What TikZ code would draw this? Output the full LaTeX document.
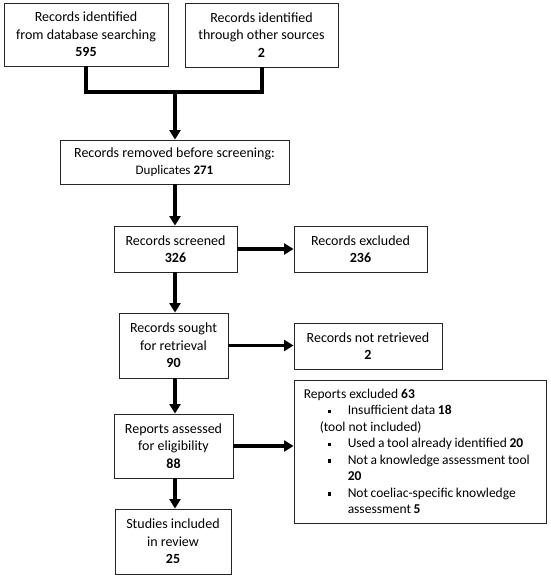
\documentclass[tikz,border=0pt]{standalone}
\usepackage{fontspec}
\setmainfont{Carlito}
\usetikzlibrary{arrows.meta}
\tikzset{
  box/.style={draw=black!85, line width=0.9pt, align=center, inner sep=2pt, font=\fontsize{14}{17.5}\selectfont},
  conn/.style={line width=3.6pt, line cap=butt},
  arr/.style={conn, -{Triangle[width=11pt,length=9.5pt]}},
  listtext/.style={align=left, inner sep=0pt, anchor=north west, font=\fontsize{13.5}{16.5}\selectfont},
}
\newcommand{\bulitem}{\hspace*{24pt}\makebox[20pt][l]{\rule[0.25ex]{3.5pt}{3.5pt}}}
\newcommand{\tight}[1]{{\spaceskip=2.6pt #1}}
\begin{document}
\begin{tikzpicture}[x=1pt,y=-1pt]
\useasboundingbox (0,0) rectangle (550,578);
\node[box, minimum width=164pt, minimum height=63pt] (b1) at (86,34.5) {Records identified\\from database searching\\\textbf{595}};
\node[box, minimum width=153pt, minimum height=64pt] (b2) at (261.5,35) {Records identified\\through other sources\\\textbf{2}};
\node[box, minimum width=229pt, minimum height=44pt] (b3) at (174.5,162) {Records removed before screening:\\{\fontsize{13}{15}\selectfont Duplicates \textbf{271}}};
\node[box, minimum width=123pt, minimum height=46pt] (b4) at (175.5,249) {Records screened\\\textbf{326}};
\node[box, minimum width=133pt, minimum height=46pt] (b5) at (360.5,249) {Records excluded\\\textbf{236}};
\node[box, minimum width=109pt, minimum height=65pt] (b6) at (173.5,345.5) {Records sought\\for retrieval\\\textbf{90}};
\node[box, minimum width=148pt, minimum height=46pt] (b7) at (368,346) {Records not retrieved\\\textbf{2}};
\node[box, minimum width=119pt, minimum height=64pt] (b9) at (173.5,446) {Reports assessed\\for eligibility\\\textbf{88}};
\node[box, minimum width=116pt, minimum height=65pt] (b10) at (173,541.5) {Studies included\\in review\\\textbf{25}};
\node[box, minimum width=252pt, minimum height=143pt] (b8) at (420,451.5) {};
\node[listtext] (b8t) at ([xshift=10pt,yshift=-9pt]b8.north west) {%
Reports excluded \textbf{63}\\
\bulitem \tight{Insufficient data \textbf{18}}\\
\hspace*{16pt}(tool not included)\\
\bulitem \tight{Used a tool already identified \textbf{20}}\\
\bulitem \tight{Not a knowledge assessment tool}\\
\hspace*{44pt}\textbf{20}\\
\bulitem \tight{Not coeliac-specific knowledge}\\
\hspace*{44pt}\tight{assessment \textbf{5}}};
\coordinate (jl) at (86,92);
\coordinate (jr) at (262,92);
\coordinate (jm) at (175,92);
\coordinate (col) at (175,0);
\draw[conn] (b1.south) -- (jl) -- (jr) -- (b2.south -| jr);
\draw[arr] (jm) -- (b3.north -| jm);
\draw[arr] (b3.south -| col) -- (b4.north -| col);
\draw[arr] (b4.south -| col) -- (b6.north -| col);
\draw[arr] (b6.south -| col) -- (b9.north -| col);
\draw[arr] (b9.south -| col) -- (b10.north -| col);
\draw[arr] (b4.east) -- (b4.east -| b5.west);
\draw[arr] (b6.east) -- (b6.east -| b7.west);
\draw[arr] (b9.east) -- (b9.east -| b8.west);
\end{tikzpicture}
\end{document}
